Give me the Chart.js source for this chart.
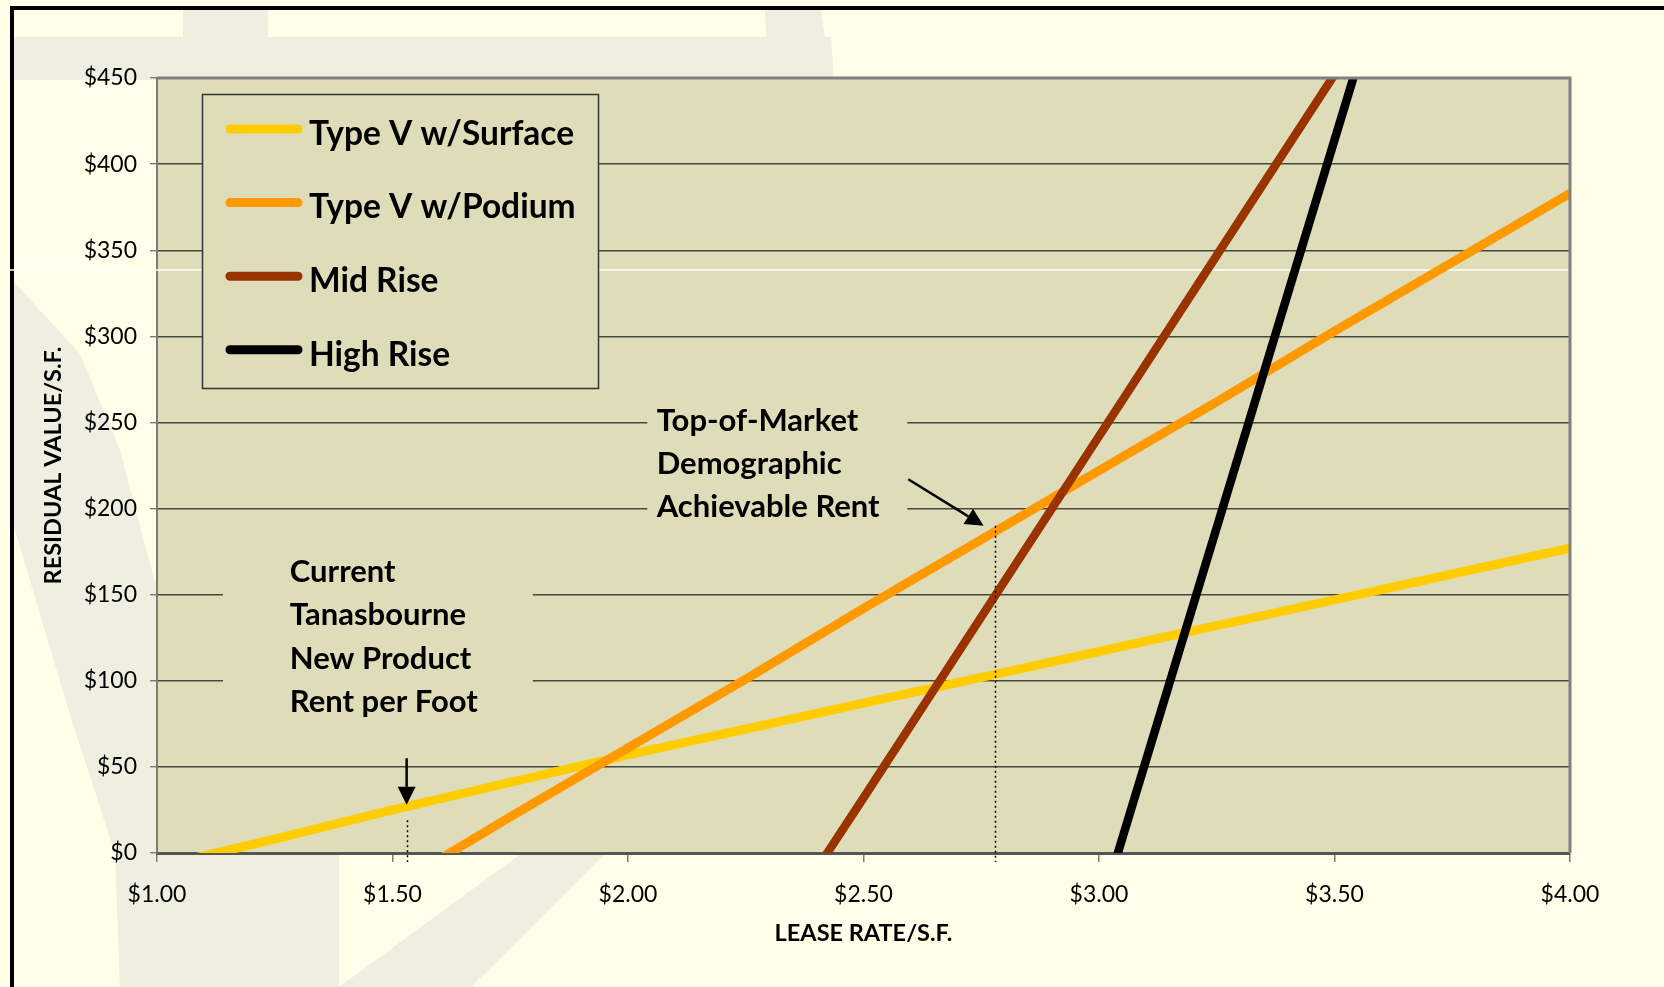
<!DOCTYPE html>
<html>
<head>
<meta charset="utf-8">
<title>Residual Value vs Lease Rate</title>
<script src="https://cdn.jsdelivr.net/npm/chart.js@4/dist/chart.umd.min.js"></script>
<style>
  html, body { margin: 0; padding: 0; background: #FFFFE9; }
  #wrap { position: relative; width: 1664px; height: 987px; overflow: hidden; }
  canvas { display: block; }
</style>
</head>
<body>
<div id="wrap"><canvas id="chart" width="1664" height="987"></canvas></div>
<script>
// Lease rate ($ per s.f. per month) at which each residual value is given
const leaseRates = [1.00, 1.25, 1.50, 1.75, 2.00, 2.25, 2.50, 2.75, 3.00, 3.25, 3.50, 3.75, 4.00];

// Residual land value per s.f. for each building type (null = not priced at that rent)
const typeVSurface = [-8, 8, 25, 41, 57, 72, 87, 102, 117, 132, 147, 162, 177];
const typeVPodium  = [null, null, -20, 21, 61, 101, 142, 182, 222, 262, 303, 343, 383];
const midRise      = [null, null, null, null, null, -72, 32, 137, 242, 347, 452, null, null];
const highRise     = [null, null, null, null, null, null, null, null, -36, 189, 414, 639, null];

const seriesNames  = ['Type V w/Surface', 'Type V w/Podium', 'Mid Rise', 'High Rise'];
const seriesValues = [typeVSurface, typeVPodium, midRise, highRise];
const seriesColors = ['#FFCC00', '#FF9900', '#993300', '#000000'];
const seriesWidths = [9, 9, 8.5, 8.5];

// Axis ticks
const xTickStep = 0.5;
const yTickStep = 50;

// Call-out texts and the rents they point at
const currentRentNote = ['Current', 'Tanasbourne', 'New Product', 'Rent per Foot'];
const topMarketNote   = ['Top-of-Market', 'Demographic', 'Achievable Rent'];
const markerRates     = [1.53, 2.78];

const PAGE_BG  = '#FFFFE9';
const MARK_BG  = '#EEEEE1';
const PLOT_BG  = '#DFDDB9';
const FONT     = 'Lato';

function toPoints(values) {
  const pts = [];
  values.forEach((v, i) => { if (v !== null) pts.push({ x: leaseRates[i], y: v }); });
  return pts;
}

// Call-out placement, in axis units
const noteLayout = [
  { lines: currentRentNote, box: [1.140, 1.798, 74, 177], textX: 1.282, firstY: 163.3, gap: 43.5,
    arrow: { from: [markerRates[0], 55], to: [markerRates[0], 28] }, dotTop: 19 },
  { lines: topMarketNote, box: [2.041, 2.593, 188, 264], textX: 2.061, firstY: 250.8, gap: 43,
    arrow: { from: [2.595, 217], to: [2.755, 190] }, dotTop: 190 }
];

// Page background, faint logo shapes, frame and plot fill
const backdrop = {
  id: 'backdrop',
  beforeDraw(chart) {
    const { ctx, chartArea: a, width, height } = chart;
    ctx.save();
    ctx.fillStyle = PAGE_BG;
    ctx.fillRect(0, 0, width, height);
    ctx.fillStyle = MARK_BG;
    const polys = [
      [[10, 37], [831, 37], [834, 80], [10, 80]],
      [[183, 9], [268, 9], [268, 37], [183, 37]],
      [[765, 9], [821, 9], [831, 80], [768, 80]],
      [[12, 280], [80, 354], [120, 450], [145, 545], [160, 600], [160, 853], [339, 853], [339, 987],
       [120, 987], [115, 853], [70, 715], [12, 520]],
      [[522, 853], [606, 853], [471, 987], [339, 987]]
    ];
    polys.forEach(p => {
      ctx.beginPath();
      p.forEach(([px, py], i) => i ? ctx.lineTo(px, py) : ctx.moveTo(px, py));
      ctx.closePath();
      ctx.fill();
    });
    ctx.fillStyle = '#000';
    ctx.fillRect(10, 6, width - 10, 4);
    ctx.fillRect(10, 6, 4, height - 6);
    ctx.fillStyle = PLOT_BG;
    ctx.fillRect(a.left, a.top, a.right - a.left, a.bottom - a.top);
    ctx.restore();
  }
};

// Text boxes of the call-outs and the light rule across the page
const notes = {
  id: 'notes',
  beforeDatasetsDraw(chart) {
    const { ctx, scales: { x, y }, chartArea: a } = chart;
    ctx.save();
    ctx.strokeStyle = '#FFFFFF';
    ctx.lineWidth = 1.5;
    ctx.beginPath();
    ctx.moveTo(0, 270);
    ctx.lineTo(a.right, 270);
    ctx.stroke();
    noteLayout.forEach(n => {
      const l = x.getPixelForValue(n.box[0]), r = x.getPixelForValue(n.box[1]);
      const t = y.getPixelForValue(n.box[3]), b = y.getPixelForValue(n.box[2]);
      ctx.fillStyle = PLOT_BG;
      ctx.fillRect(l, t, r - l, b - t);
      ctx.fillStyle = '#000';
      ctx.font = 'bold 31px ' + FONT;
      ctx.textAlign = 'left';
      ctx.textBaseline = 'middle';
      const tx = x.getPixelForValue(n.textX);
      const ty = y.getPixelForValue(n.firstY);
      n.lines.forEach((s, i) => ctx.fillText(s, tx, ty + i * n.gap));
    });
    ctx.restore();
  },
  afterDatasetsDraw(chart) {
    const { ctx, scales: { x, y }, chartArea: a } = chart;
    ctx.save();
    // dotted drop lines at the flagged rents
    ctx.strokeStyle = '#000';
    ctx.lineWidth = 1.5;
    ctx.setLineDash([2, 3]);
    noteLayout.forEach((n, i) => {
      const px = Math.round(x.getPixelForValue(markerRates[i])) + 0.5;
      ctx.beginPath();
      ctx.moveTo(px, y.getPixelForValue(n.dotTop));
      ctx.lineTo(px, a.bottom + 9);
      ctx.stroke();
    });
    ctx.setLineDash([]);
    // arrows
    noteLayout.forEach(n => {
      const x0 = x.getPixelForValue(n.arrow.from[0]), y0 = y.getPixelForValue(n.arrow.from[1]);
      const x1 = x.getPixelForValue(n.arrow.to[0]), y1 = y.getPixelForValue(n.arrow.to[1]);
      const ang = Math.atan2(y1 - y0, x1 - x0);
      const head = 18, half = 9;
      const bx = x1 - head * Math.cos(ang), by = y1 - head * Math.sin(ang);
      ctx.strokeStyle = '#000';
      ctx.lineWidth = 2.5;
      ctx.beginPath();
      ctx.moveTo(x0, y0);
      ctx.lineTo(bx, by);
      ctx.stroke();
      ctx.fillStyle = '#000';
      ctx.beginPath();
      ctx.moveTo(x1, y1);
      ctx.lineTo(bx + half * Math.sin(ang), by - half * Math.cos(ang));
      ctx.lineTo(bx - half * Math.sin(ang), by + half * Math.cos(ang));
      ctx.closePath();
      ctx.fill();
    });
    // top and right edges of the plot area
    ctx.strokeStyle = '#808080';
    ctx.lineWidth = 3;
    ctx.beginPath();
    ctx.moveTo(a.left, a.top);
    ctx.lineTo(a.right, a.top);
    ctx.lineTo(a.right, a.bottom);
    ctx.stroke();
    ctx.restore();
  }
};

// Legend box inside the plot area
const insideLegend = {
  id: 'insideLegend',
  afterDraw(chart) {
    const { ctx, chartArea: a } = chart;
    const left = a.left + 45, top = a.top + 16, w = 396, h = 294;
    ctx.save();
    ctx.fillStyle = PLOT_BG;
    ctx.fillRect(left, top, w, h);
    ctx.strokeStyle = '#333333';
    ctx.lineWidth = 1.5;
    ctx.strokeRect(left + 0.5, top + 0.5, w, h);
    ctx.font = 'bold 33.5px ' + FONT;
    ctx.textAlign = 'left';
    ctx.textBaseline = 'middle';
    chart.data.datasets.forEach((ds, i) => {
      const cy = top + 40 + i * 73.6;
      ctx.strokeStyle = ds.borderColor;
      ctx.lineWidth = 9;
      ctx.lineCap = 'round';
      ctx.beginPath();
      ctx.moveTo(left + 28, cy - 5);
      ctx.lineTo(left + 96, cy - 5);
      ctx.stroke();
      ctx.fillStyle = '#000';
      ctx.fillText(ds.label, left + 107, cy);
    });
    ctx.restore();
  }
};

Chart.defaults.font.family = FONT;
Chart.defaults.color = '#000';

function build() {
  new Chart(document.getElementById('chart'), {
    type: 'line',
    data: {
      datasets: seriesNames.map((name, i) => ({
        label: name,
        data: toPoints(seriesValues[i]),
        borderColor: seriesColors[i],
        backgroundColor: seriesColors[i],
        borderWidth: seriesWidths[i],
        borderCapStyle: 'butt',
        borderJoinStyle: 'round',
        pointRadius: 0,
        pointHoverRadius: 0,
        tension: 0,
        fill: false,
        clip: 0,
        order: seriesNames.length - i
      }))
    },
    options: {
      responsive: false,
      animation: false,
      devicePixelRatio: 1,
      events: [],
      layout: { padding: { left: 37, right: 94, top: 78, bottom: 37 } },
      plugins: { legend: { display: false }, tooltip: { enabled: false } },
      scales: {
        x: {
          type: 'linear', min: 1, max: 4,
          ticks: { stepSize: xTickStep, callback: v => '$' + Number(v).toFixed(2),
                   font: { size: 23 }, padding: 19, maxRotation: 0, autoSkip: false },
          grid: { drawOnChartArea: false, tickLength: 9, color: '#7a7a7a', lineWidth: 1.5 },
          border: { color: '#555555', width: 3 },
          title: { display: true, text: 'LEASE RATE/S.F.', font: { size: 23.5, weight: 'bold' },
                   padding: { top: 2, bottom: 2 } },
          afterFit: s => { s.height = 97; }
        },
        y: {
          min: 0, max: 450,
          ticks: { stepSize: yTickStep, callback: v => '$' + v, font: { size: 23 }, padding: 13 },
          grid: { color: '#47473b', lineWidth: 1.4, tickLength: 7, tickColor: '#7a7a7a' },
          border: { color: '#7a7a7a', width: 2 },
          title: { display: true, text: 'RESIDUAL VALUE/S.F.', font: { size: 23.5, weight: 'bold' },
                   padding: { top: 2, bottom: 2 } },
          afterFit: s => { s.width = 120; }
        }
      }
    },
    plugins: [backdrop, notes, insideLegend]
  });
}

Promise.all([
  document.fonts.load('bold 31px ' + FONT),
  document.fonts.load('23px ' + FONT)
]).then(build, build);
</script>
</body>
</html>
